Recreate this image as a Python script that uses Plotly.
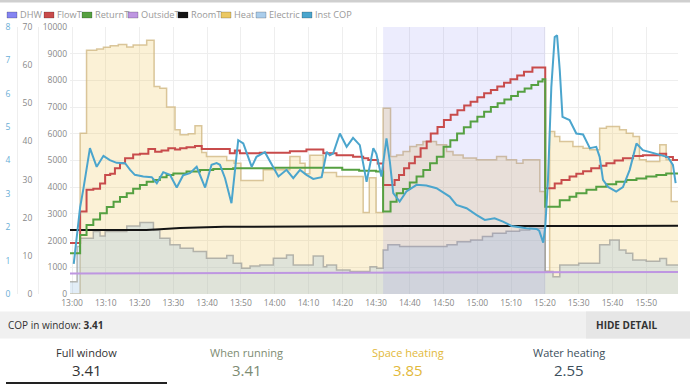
import plotly.graph_objects as go
import pandas as pd

BASE = pd.Timestamp("2024-01-01 13:00:00")

# ---------------- data (time = minutes after 13:00) ----------------
heat_t = [-0.6, 2.4, 4.3, 7.3, 9.3, 11.3, 13.7, 16.2, 18.1, 22.1, 24.3, 26, 28, 30.5, 32, 34.4,
          36.4, 38.4, 39.8, 45.8, 48, 50, 56.6, 64.5, 67.5, 69, 70.4, 74.4, 78.3, 86.2, 88, 90,
          92.1, 94.3, 96.1, 98, 100, 102, 103.9, 107.9, 110.9, 112.8, 115.8, 119.7, 125.7, 128.6,
          131.6, 133.5, 138.5, 140.1, 141.4, 142.9, 144.4, 148.3, 151.3, 153.3, 156.2, 158.2,
          162.1, 164.1, 166.1, 168, 170, 174, 175.9, 177.4, 179.4]
heat_w = [0, 6025, 9125, 9175, 9240, 9300, 9340, 9250, 9325, 9500, 7775, 7710, 7000, 6150, 5960, 6000,
          6300, 5300, 5150, 5000, 4900, 4250, 4650, 5150, 4900, 4500, 5200, 4550, 4400, 3050, 4350, 3050,
          6960, 5150, 5210, 5340, 5525, 5590, 5710, 5590, 5340, 5210, 5090, 5025, 5150, 5025,
          4900, 5025, 3840, 850, 6090, 5900, 5710, 5525, 5460, 5400, 6210, 6275,
          6150, 6025, 5900, 5025, 4960, 5590, 5025, 3460, 3460]

elec_t = [-0.6, 1.5, 2.4, 6.3, 8.3, 9.8, 16.2, 20.1, 24.1, 26, 29, 32, 35.9, 39.8, 45.8, 47.7,
          50.2, 52.7, 55.6, 59.6, 63.5, 65.5, 71.4, 74.4, 75.4, 78.3, 82.3, 88.2, 90.2,
          92.1, 93.5, 97, 108, 111, 114, 118, 121.5, 124.5, 128.5, 132.5, 135.5,
          140.1, 142.4, 144.4, 150, 156.2, 159.2, 162, 164, 166, 170, 174, 176, 179.4]
elec_w = [460, 1775, 2090, 2340, 2175, 2340, 2550, 2675, 2400, 2090, 1840, 1710, 1590, 1340, 1440, 1150,
          960, 1050, 1090, 1340, 1460, 1090, 1425, 1025, 1090, 900, 840, 1025, 960,
          1650, 1840, 1780, 1780, 1840, 1960, 2025, 2150, 2275, 2350, 2400, 2460,
          840, 650, 1090, 1150, 1840, 2025, 1650, 1530, 1275, 1230, 1330, 1090, 1090]

flow_t = [-0.6, 2.4, 4.3, 6.3, 8.3, 9.8, 11.3, 12.7, 14.2, 15.7, 18.1, 20.1, 22.6, 24.6, 26.5, 28.5,
          30.5, 32, 33.9, 36.4, 38.4, 46.7, 48.2, 49.7, 55.6, 64.5, 69.4, 74.4, 78.3, 83.2, 86.2,
          87.7, 90.5,
          92.1, 95.5, 96.8, 98.3, 99.8, 101.5, 103.2, 105, 106.2, 108.2, 110.1, 112.1, 114.1, 116.1,
          118, 120, 122, 124, 125.9, 127.9, 129.8, 131.8, 133.8, 136.3,
          140.1, 142.9, 144.9, 147.3, 149.3, 151.3, 153.7, 156.2, 158.2, 160.6, 163.1, 166.1, 169,
          174, 175.9, 177.9, 179.4]
flow_c = [13.4, 21.6, 27.3, 27.6, 29.0, 31.2, 31.5, 33.0, 34.3, 35.6, 36.6, 36.8, 38.0, 37.3, 37.6, 38.2,
          37.9, 38.2, 38.5, 38.8, 38.0, 36.9, 37.6, 36.9, 37.0, 37.4, 37.9, 36.9, 36.4, 36.0, 35.6,
          35.1, 34.2,
          28.6, 29.9, 31.2, 33.0, 34.3, 36.0, 38.2, 40.0, 42.1, 43.8, 45.6, 47.0, 48.2, 49.4,
          50.4, 51.6, 52.6, 53.5, 54.4, 55.4, 56.3, 57.3, 58.3, 59.4,
          27.7, 29.0, 29.9, 30.8, 31.5, 32.2, 33.0, 33.6, 34.3, 35.0, 35.6, 36.2, 36.4,
          36.8, 35.9, 35.1, 35.1]

ret_t = [-0.6, 2.4, 4.3, 6.3, 8.3, 10.3, 12.3, 14.2, 16.2, 18.1, 20.1, 22.1, 24.1, 26, 28, 30,
         33.9, 37.9, 41.8, 47.7, 60, 75, 80, 85, 90,
         92.1, 94.3, 96.1, 98, 100, 102, 104, 106, 108, 110, 112, 114, 116, 118, 120, 122, 124,
         126, 128, 130, 132, 134, 136, 138, 139.3,
         140.1, 144.4, 147.3, 149.3, 152.3, 155.2, 158.2, 161.1, 164.1, 167.1, 170, 173, 175.9, 179.4]
ret_c = [10.7, 15.5, 18.1, 19.5, 21.2, 22.8, 24.2, 25.4, 26.4, 27.6, 28.6, 29.4, 29.9, 30.6, 31.2, 31.6,
         32.1, 32.5, 32.8, 33.0, 33.1, 33.1, 32.6, 32.3, 32.1,
         21.6, 24.2, 26.4, 27.5, 29.2, 30.8, 32.5, 34.3, 36.0, 38.6, 40.3, 42.1, 43.7, 45.2, 46.5, 47.8, 49.0,
         50.0, 51.0, 51.9, 53.0, 53.9, 54.8, 55.7, 56.3,
         22.9, 24.6, 25.5, 26.4, 27.3, 28.1, 28.8, 29.4, 29.9, 30.3, 30.8, 31.2, 31.6, 31.6]

out_t = [-0.6, 60, 120, 179.4]
out_c = [5.4, 5.5, 5.7, 5.8]

room_t = [-0.6, 22, 26, 32, 45, 70, 100, 160, 179.4]
room_c = [16.8, 16.8, 17.0, 17.3, 17.6, 17.7, 17.8, 17.8, 17.9]

cop_t = [0.5, 1.5, 2.4, 3.4, 5.3, 7.3, 9.3, 11.2, 13.2, 15.7, 17.2, 18.6, 21.1, 23.6, 25.1, 27, 29, 31,
         32.9, 34.9, 36.9, 39.4, 41.3, 42.8, 43.8, 45.3, 47.2, 49.2, 50.7, 53.2, 54.6, 57.1, 58.6,
         61.1, 63.5, 65.5, 67.5, 69.4, 71.4, 73.9, 75.4, 76.3, 77.3, 79.3, 81.3, 83.2, 85.2, 87.2,
         89.2, 90.1, 91.6, 93.1, 94.1, 95.1, 97, 99, 102, 104.9, 107.9, 111.8, 113.8, 116.8, 119.7,
         122.2, 125.1, 127.6, 130.1, 132.1, 134.5, 137.5, 138.3, 139.5, 140.1, 140.9, 141.9, 142.9,
         143.6, 144.4, 145.2, 147.3, 149.3, 151.3, 153.3, 155.2, 156.2, 157.2, 158.7, 161.1, 163.1,
         165.1, 167.1, 169, 171, 174, 176.4, 177.9, 178.7]
cop_v = [0.9, 1.8, 2.6, 3.17, 4.37, 3.81, 4.14, 4.01, 3.93, 3.92, 3.72, 3.57, 3.52, 3.50, 3.32, 3.65, 3.57, 3.19,
         3.56, 3.62, 3.81, 3.19, 3.87, 3.92, 3.87, 3.47, 2.72, 4.61, 4.51, 3.81, 4.11, 4.25, 3.97,
         3.52, 3.72, 3.47, 3.72, 3.57, 3.45, 3.50, 4.26, 4.16, 4.21, 4.81, 4.41, 4.68, 4.46, 3.36,
         4.37, 4.2, 3.52, 4.66, 3.96, 3.02, 2.77, 3.07, 3.27, 3.25, 3.17, 2.92, 2.67, 2.57, 2.37,
         2.22, 2.27, 2.17, 2.04, 2.0, 1.97, 1.95, 1.9, 1.54, 2.0, 3.4, 6.2, 7.7,
         7.75, 6.7, 5.31, 5.21, 4.81, 4.78, 4.37, 4.41, 4.11, 3.42, 3.21, 3.07, 3.2,
         3.72, 4.51, 4.31, 4.25, 4.16, 4.1, 3.87, 3.32]

dhw_start, dhw_end = 92.1, 140.1

legend_names = ["DHW", "FlowT", "ReturnT", "OutsideT", "RoomT", "Heat", "Electric", "Inst COP"]
x_ticks_min = list(range(0, 180, 10))

summary_label = "COP in window:"
summary_value = "3.41"
cols = ["Full window", "When running", "Space heating", "Water heating"]
col_vals = ["3.41", "3.41", "3.85", "2.55"]

# ---------------- helpers ----------------
W, H = 690, 384
ML, MR, MT, MB = 0, 12, 27, 90
PW, PH = W - ML - MR, H - MT - MB


def tt(mins):
    return [BASE + pd.Timedelta(minutes=m) for m in mins]


def px(xp):
    return (xp - ML) / PW


def py(yp):
    return (H - MB - yp) / PH


FONT = "Open Sans"

fig = go.Figure()

fig.add_trace(go.Scatter(x=tt(heat_t), y=heat_w, mode="lines", line_shape="hv", fill="tozeroy",
                         fillcolor="rgba(240,200,90,0.25)",
                         line=dict(color="rgba(205,180,125,0.75)", width=1.5),
                         yaxis="y", showlegend=False, hoverinfo="skip"))
fig.add_trace(go.Scatter(x=tt(elec_t), y=elec_w, mode="lines", line_shape="hv", fill="tozeroy",
                         fillcolor="rgba(150,190,225,0.28)",
                         line=dict(color="rgba(160,160,155,0.75)", width=1.5),
                         yaxis="y", showlegend=False, hoverinfo="skip"))
fig.add_trace(go.Scatter(x=tt([dhw_start, dhw_end]), y=[10000, 10000], mode="lines", line_shape="hv",
                         fill="tozeroy", fillcolor="rgba(110,110,240,0.13)",
                         line=dict(width=0, color="rgba(0,0,0,0)"),
                         yaxis="y", showlegend=False, hoverinfo="skip"))

fig.add_trace(go.Scatter(x=tt(out_t), y=out_c, mode="lines",
                         line=dict(color="rgb(190,150,225)", width=2), yaxis="y2", showlegend=False))
fig.add_trace(go.Scatter(x=tt(room_t), y=room_c, mode="lines",
                         line=dict(color="rgb(20,20,20)", width=2), yaxis="y2", showlegend=False))
fig.add_trace(go.Scatter(x=tt(flow_t), y=flow_c, mode="lines", line_shape="hv",
                         line=dict(color="rgb(200,75,75)", width=2), yaxis="y2", showlegend=False))
fig.add_trace(go.Scatter(x=tt(ret_t), y=ret_c, mode="lines", line_shape="hv",
                         line=dict(color="rgb(85,160,65)", width=2), yaxis="y2", showlegend=False))
fig.add_trace(go.Scatter(x=tt(cop_t), y=cop_v, mode="lines",
                         line=dict(color="rgb(75,165,205)", width=2), yaxis="y3", showlegend=False))

# ---------------- legend (manual) ----------------
leg_fill = ["rgba(110,110,240,0.85)", "rgb(200,75,75)", "rgb(85,160,65)", "rgb(190,150,225)",
            "rgb(20,20,20)", "rgb(235,200,100)", "rgb(170,205,235)", "rgb(75,165,205)"]
leg_x = [7, 44, 82, 128, 178, 221, 256, 302]
shapes = []
annotations = []
for name, col, x0 in zip(legend_names, leg_fill, leg_x):
    shapes.append(dict(type="rect", xref="paper", yref="paper",
                       x0=px(x0), x1=px(x0 + 10), y0=py(18), y1=py(12),
                       fillcolor=col, line=dict(color="rgba(0,0,0,0.2)", width=1)))
    annotations.append(dict(text=name, xref="paper", yref="paper", x=px(x0 + 11), y=py(15),
                            xanchor="left", yanchor="middle", showarrow=False,
                            font=dict(family=FONT, size=9.2, color="#999")))

# top strip
shapes.append(dict(type="rect", xref="paper", yref="paper", x0=px(0), x1=px(W), y0=py(2.5), y1=py(0),
                   fillcolor="#cfcfcf", line=dict(width=0)))
# summary bar
shapes.append(dict(type="rect", xref="paper", yref="paper", x0=px(0), x1=px(W), y0=py(338.5), y1=py(311.5),
                   fillcolor="#f0f0f0", line=dict(width=0)))
shapes.append(dict(type="rect", xref="paper", yref="paper", x0=px(586), x1=px(W), y0=py(338.5), y1=py(311.5),
                   fillcolor="#e6e6e6", line=dict(width=0)))
# underline for selected column
shapes.append(dict(type="rect", xref="paper", yref="paper", x0=px(6), x1=px(167), y0=py(384), y1=py(382),
                   fillcolor="#222", line=dict(width=0)))

annotations.append(dict(text=f"{summary_label} <b>{summary_value}</b>", xref="paper", yref="paper",
                        x=px(6), y=py(325), xanchor="left", yanchor="middle", showarrow=False,
                        font=dict(family=FONT, size=10, color="#333")))
annotations.append(dict(text="<b>HIDE DETAIL</b>", xref="paper", yref="paper",
                        x=px(627), y=py(325), xanchor="center", yanchor="middle", showarrow=False,
                        font=dict(family=FONT, size=10, color="#333")))

col_colors = ["#333333", "#7d8b72", "#e2b93b", "#3d4f5c"]
col_cx = [86.5, 247, 408, 569]
for name, val, c, cx in zip(cols, col_vals, col_colors, col_cx):
    annotations.append(dict(text=name, xref="paper", yref="paper", x=px(cx), y=py(352),
                            xanchor="center", yanchor="middle", showarrow=False,
                            font=dict(family=FONT, size=11, color=c)))
    annotations.append(dict(text=val, xref="paper", yref="paper", x=px(cx), y=py(369.5),
                            xanchor="center", yanchor="middle", showarrow=False,
                            font=dict(family=FONT, size=15, color=c)))

tickfont = dict(family=FONT, size=8.5, color="#888")
fig.update_layout(
    width=W, height=H,
    margin=dict(l=ML, r=MR, t=MT, b=MB, pad=0, autoexpand=False),
    paper_bgcolor="white", plot_bgcolor="white",
    showlegend=False,
    xaxis=dict(type="date", domain=[px(70), 1], automargin=False,
               range=[BASE + pd.Timedelta(minutes=-0.6), BASE + pd.Timedelta(minutes=179.4)],
               tickvals=tt(x_ticks_min), tickformat="%H:%M", ticklabelstandoff=2,
               showgrid=True, gridcolor="#eeeeee", zeroline=False, showline=False,
               ticks="", tickfont=tickfont),
    yaxis=dict(range=[0, 10000], dtick=1000, tickformat="d", showgrid=True, gridcolor="#eeeeee",
               zeroline=False, showline=False, ticks="", tickfont=tickfont, automargin=False,
               ticklabelstandoff=2),
    yaxis2=dict(range=[0, 70], dtick=10, overlaying="y", anchor="free", side="left",
                position=px(38), showgrid=False, zeroline=False, showline=True, automargin=False,
                linecolor="#eeeeee", ticks="", tickfont=tickfont, ticklabelstandoff=4),
    yaxis3=dict(range=[0, 8], dtick=1, overlaying="y", anchor="free", side="left",
                position=px(17), showgrid=False, zeroline=False, showline=True, automargin=False,
                linecolor="#eeeeee", ticks="", ticklabelstandoff=5,
                tickfont=dict(family=FONT, size=8.5, color="#6aaed6")),
    shapes=shapes,
    annotations=annotations,
)

fig.write_html("out.html", config={"displayModeBar": False},
               post_script="document.body.style.margin='0';document.body.style.padding='0';"
                           "document.body.style.overflow='hidden';")
